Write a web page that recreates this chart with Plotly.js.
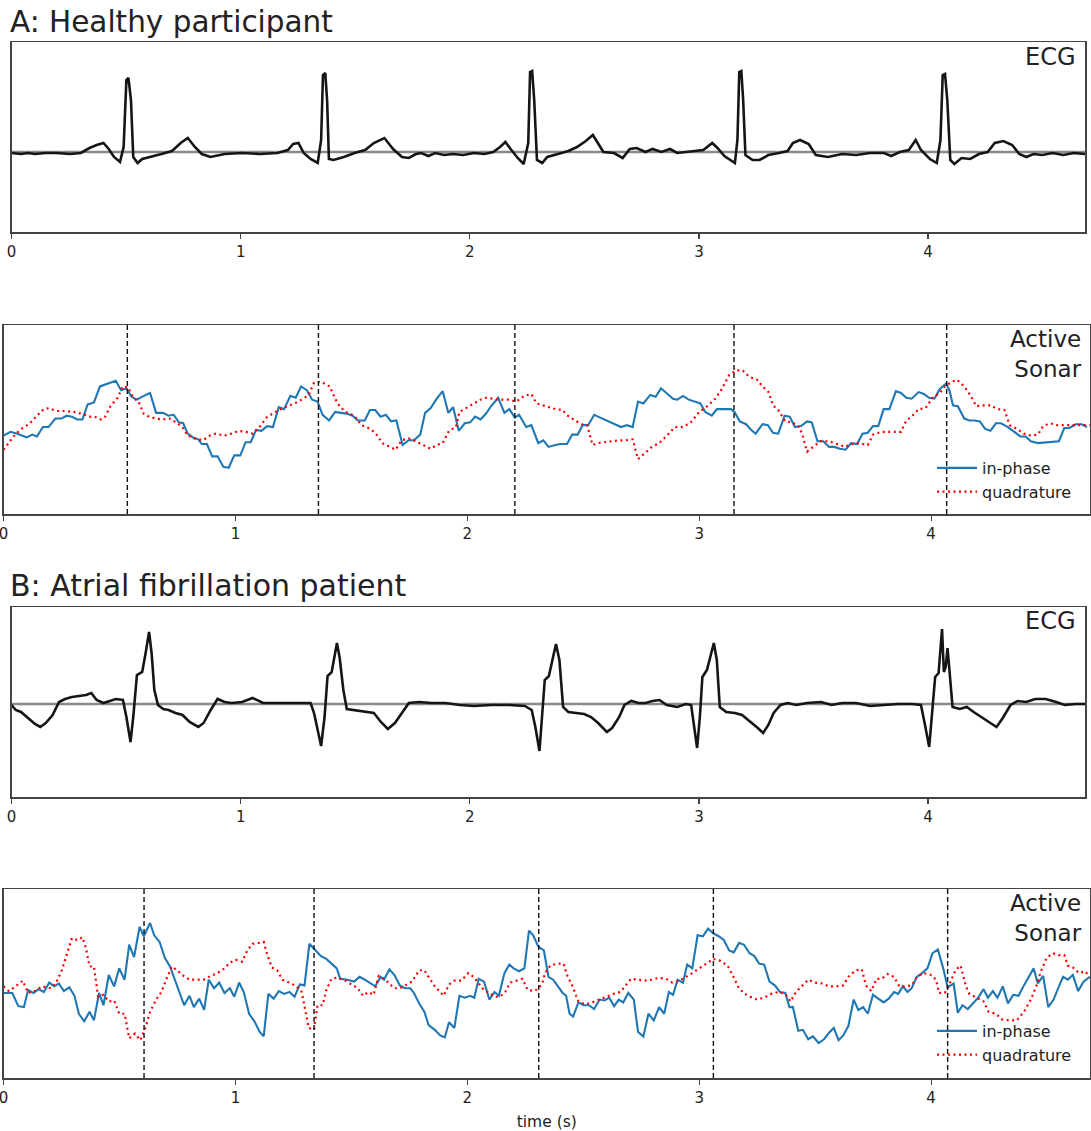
<!DOCTYPE html>
<html>
<head>
<meta charset="utf-8">
<script src="https://cdn.plot.ly/plotly-3.0.1.min.js"></script>
<style>
  html, body { margin: 0; padding: 0; background: #fff; }
  #chart { width: 1091px; height: 1131px; }
</style>
</head>
<body>
<div id="chart"></div>
<script>
// ---------- A: healthy participant ----------
const ecgA_t = [0,0.041,0.072,0.102,0.149,0.194,0.256,0.302,0.34,0.371,0.401,0.424,0.447,0.473,0.489,0.501,0.51,0.521,0.531,0.55,0.57,0.608,0.654,0.70,0.738,0.769,0.80,0.83,0.868,0.93,1.006,1.083,1.16,1.206,1.229,1.252,1.275,1.305,1.336,1.351,1.359,1.369,1.377,1.385,1.405,1.45,1.497,1.543,1.581,1.627,1.665,1.704,1.734,1.765,1.788,1.819,1.849,1.887,1.926,1.971,2.018,2.064,2.102,2.132,2.155,2.178,2.209,2.235,2.255,2.263,2.272,2.281,2.293,2.316,2.338,2.384,2.43,2.468,2.506,2.537,2.56,2.583,2.629,2.667,2.698,2.728,2.767,2.797,2.836,2.874,2.905,2.95,3.019,3.058,3.081,3.111,3.142,3.157,3.168,3.176,3.185,3.193,3.203,3.234,3.265,3.303,3.349,3.387,3.41,3.441,3.479,3.51,3.563,3.625,3.686,3.747,3.808,3.839,3.877,3.916,3.946,3.969,4.008,4.038,4.054,4.064,4.074,4.084,4.097,4.115,4.146,4.184,4.222,4.26,4.291,4.329,4.367,4.398,4.429,4.46,4.498,4.544,4.59,4.636,4.685];
const ecgA_v = [-0.01,-0.02,-0.01,-0.02,-0.01,-0.01,-0.02,-0.01,0.04,0.07,0.09,0.03,-0.05,-0.10,0.05,0.72,0.74,0.52,-0.05,-0.11,-0.07,-0.05,-0.02,0.01,0.09,0.14,0.05,-0.02,-0.05,-0.02,-0.01,-0.02,-0.01,0.02,0.08,0.09,-0.01,-0.07,-0.11,0.12,0.77,0.79,0.52,-0.07,-0.08,-0.05,-0.01,0.02,0.09,0.14,0.03,-0.05,-0.06,-0.02,-0.01,-0.04,-0.01,-0.03,-0.02,-0.03,-0.01,-0.02,0,0.05,0.10,0.03,-0.06,-0.12,0.09,0.80,0.81,0.52,-0.08,-0.11,-0.05,-0.02,0.01,0.05,0.11,0.17,0.09,0,-0.01,-0.06,0.03,0.04,0,0.03,0,0.03,-0.01,0,0.02,0.09,0.04,-0.04,-0.09,-0.11,0.12,0.80,0.81,0.52,-0.03,-0.08,-0.08,-0.03,-0.01,0.01,0.09,0.12,0.08,-0.03,-0.05,-0.02,-0.03,-0.01,-0.01,-0.04,0,0.02,0.12,0.02,-0.07,-0.11,0.12,0.77,0.78,0.52,-0.08,-0.12,-0.06,-0.07,-0.02,0,0.09,0.11,0.07,-0.02,-0.05,-0.02,-0.03,-0.01,-0.03,-0.01,-0.02];

const sonarA_inT = [0,0.03,0.06,0.10,0.124,0.144,0.17,0.194,0.224,0.25,0.272,0.295,0.318,0.34,0.363,0.39,0.416,0.446,0.484,0.507,0.53,0.552,0.575,0.605,0.632,0.658,0.688,0.711,0.734,0.756,0.775,0.794,0.817,0.84,0.855,0.877,0.90,0.923,0.948,0.971,0.995,1.021,1.044,1.066,1.089,1.112,1.137,1.162,1.187,1.21,1.237,1.26,1.283,1.308,1.331,1.354,1.376,1.404,1.43,1.455,1.482,1.505,1.528,1.558,1.58,1.603,1.626,1.649,1.671,1.694,1.721,1.747,1.77,1.797,1.818,1.842,1.868,1.894,1.918,1.939,1.963,1.989,2.012,2.034,2.057,2.08,2.102,2.133,2.16,2.181,2.205,2.223,2.254,2.276,2.306,2.328,2.35,2.38,2.403,2.43,2.452,2.476,2.497,2.521,2.547,2.573,2.60,2.63,2.663,2.688,2.713,2.736,2.759,2.789,2.812,2.835,2.857,2.887,2.905,2.93,2.955,2.978,3.005,3.026,3.054,3.076,3.106,3.137,3.152,3.175,3.202,3.22,3.243,3.273,3.296,3.318,3.341,3.368,3.39,3.413,3.439,3.465,3.485,3.51,3.535,3.56,3.583,3.606,3.631,3.655,3.681,3.704,3.727,3.749,3.772,3.795,3.82,3.848,3.87,3.893,3.916,3.946,3.969,3.991,4.014,4.037,4.064,4.079,4.094,4.115,4.143,4.165,4.188,4.21,4.233,4.256,4.279,4.301,4.331,4.354,4.385,4.407,4.43,4.46,4.498,4.528,4.551,4.574,4.596,4.623,4.649,4.672];
const sonarA_inV = [-0.17,-0.13,-0.15,-0.19,-0.16,-0.18,-0.08,-0.08,0.01,0.01,0.04,0.03,0,0,0.16,0.18,0.35,0.38,0.41,0.31,0.33,0.24,0.21,0.25,0.28,0.07,0.07,0.04,0.05,-0.03,-0.04,-0.15,-0.19,-0.21,-0.26,-0.26,-0.39,-0.39,-0.50,-0.51,-0.38,-0.38,-0.24,-0.24,-0.11,-0.12,-0.07,-0.08,0.13,0.11,0.25,0.23,0.35,0.31,0.21,0.19,0.05,-0.01,0.08,0.07,0.06,0.04,-0.01,-0.01,0.10,0.10,0.03,0.05,-0.02,-0.01,-0.27,-0.22,-0.22,-0.16,0.07,0.12,0.22,0.30,0.07,0.13,-0.12,-0.04,-0.03,0.03,0,0.06,0.14,0.23,0.07,0.11,0.02,0.05,-0.08,-0.06,-0.25,-0.22,-0.29,-0.27,-0.26,-0.26,-0.16,-0.16,-0.06,-0.06,0.05,0.02,-0.01,-0.04,-0.08,-0.06,-0.08,0.19,0.17,0.26,0.24,0.33,0.28,0.22,0.21,0.25,0.21,0.19,0.17,0.08,0.04,0.11,0.11,0.11,0.08,-0.02,-0.05,-0.10,-0.15,-0.05,-0.06,-0.14,-0.15,0.04,0.03,-0.08,-0.07,-0.02,-0.03,-0.23,-0.23,-0.29,-0.29,-0.31,-0.32,-0.25,-0.26,-0.15,-0.14,-0.07,-0.07,0.11,0.11,0.30,0.28,0.23,0.22,0.29,0.27,0.23,0.22,0.32,0.38,0.31,0.15,0.14,0.01,-0.01,-0.01,-0.02,-0.10,-0.12,-0.04,-0.04,-0.08,-0.12,-0.18,-0.18,-0.23,-0.25,-0.24,-0.23,-0.23,-0.09,-0.09,-0.05,-0.05,-0.08];

const sonarA_quT = [0,0.023,0.053,0.083,0.114,0.144,0.174,0.197,0.227,0.265,0.303,0.34,0.37,0.393,0.42,0.438,0.461,0.492,0.514,0.537,0.56,0.582,0.605,0.628,0.658,0.688,0.718,0.749,0.771,0.794,0.824,0.859,0.89,0.915,0.953,0.983,1.013,1.044,1.074,1.104,1.134,1.165,1.195,1.225,1.255,1.286,1.316,1.339,1.369,1.407,1.43,1.452,1.482,1.513,1.543,1.573,1.603,1.634,1.664,1.691,1.717,1.747,1.777,1.808,1.842,1.868,1.894,1.921,1.951,1.966,1.996,2.027,2.057,2.08,2.11,2.14,2.178,2.211,2.246,2.276,2.299,2.343,2.38,2.411,2.433,2.464,2.494,2.517,2.54,2.562,2.592,2.623,2.653,2.683,2.713,2.736,2.766,2.796,2.827,2.857,2.895,2.93,2.963,3.0,3.035,3.069,3.099,3.129,3.16,3.187,3.217,3.25,3.273,3.299,3.318,3.341,3.371,3.401,3.432,3.447,3.465,3.49,3.523,3.56,3.595,3.628,3.659,3.689,3.727,3.749,3.787,3.825,3.87,3.893,3.916,3.946,3.976,4.006,4.037,4.059,4.09,4.112,4.143,4.173,4.195,4.226,4.256,4.286,4.316,4.339,4.37,4.4,4.43,4.46,4.483,4.513,4.543,4.581,4.619,4.657,4.684];
const sonarA_quV = [-0.32,-0.25,-0.15,-0.09,-0.04,0.04,0.11,0.12,0.09,0.09,0.08,0.06,0.03,0.03,0,0.03,0.14,0.23,0.35,0.34,0.23,0.19,0.06,0.03,0.01,0,0.01,-0.04,-0.08,-0.17,-0.20,-0.22,-0.17,-0.15,-0.17,-0.15,-0.12,-0.13,-0.15,-0.08,0.02,0.07,0.11,0.14,0.17,0.21,0.26,0.39,0.40,0.35,0.22,0.13,0.07,0.04,-0.06,-0.09,-0.14,-0.25,-0.29,-0.32,-0.22,-0.20,-0.23,-0.27,-0.31,-0.27,-0.25,-0.12,-0.08,0.08,0.12,0.17,0.21,0.23,0.22,0.21,0.21,0.19,0.25,0.27,0.17,0.14,0.11,0.10,0.04,-0.01,-0.05,-0.06,-0.27,-0.25,-0.24,-0.23,-0.22,-0.22,-0.21,-0.42,-0.36,-0.29,-0.25,-0.18,-0.08,-0.08,-0.03,0.08,0.14,0.22,0.33,0.47,0.52,0.52,0.45,0.42,0.35,0.29,0.15,0.10,-0.02,-0.03,-0.08,-0.18,-0.34,-0.29,-0.23,-0.23,-0.26,-0.29,-0.26,-0.25,-0.27,-0.16,-0.13,-0.13,-0.13,-0.01,0.03,0.11,0.12,0.23,0.28,0.35,0.40,0.42,0.35,0.24,0.14,0.15,0.15,0.11,0.10,-0.06,-0.10,-0.15,-0.17,-0.16,-0.07,-0.04,-0.06,-0.06,-0.06,-0.06,-0.06];

const beatsA = [0.534, 1.358, 2.205, 3.15, 4.067];

// ---------- B: atrial fibrillation patient ----------
const ecgB_t = [0,0.018,0.041,0.072,0.102,0.125,0.149,0.179,0.207,0.233,0.263,0.294,0.325,0.348,0.371,0.401,0.432,0.455,0.486,0.501,0.519,0.531,0.547,0.57,0.585,0.60,0.611,0.623,0.639,0.662,0.685,0.715,0.746,0.777,0.815,0.838,0.869,0.899,0.93,0.96,1.006,1.052,1.098,1.144,1.19,1.236,1.282,1.305,1.32,1.336,1.351,1.366,1.379,1.397,1.408,1.42,1.432,1.448,1.463,1.497,1.543,1.581,1.612,1.642,1.673,1.704,1.734,1.78,1.834,1.895,1.956,2.018,2.094,2.171,2.24,2.27,2.286,2.304,2.316,2.327,2.345,2.361,2.376,2.391,2.407,2.43,2.46,2.499,2.529,2.56,2.598,2.621,2.652,2.675,2.705,2.736,2.767,2.797,2.828,2.859,2.905,2.943,2.966,2.976,2.992,3.004,3.015,3.035,3.05,3.065,3.078,3.091,3.119,3.157,3.188,3.226,3.257,3.28,3.303,3.326,3.356,3.387,3.425,3.471,3.533,3.579,3.625,3.686,3.747,3.808,3.87,3.931,3.969,3.985,4.005,4.015,4.031,4.046,4.054,4.061,4.069,4.077,4.085,4.092,4.107,4.138,4.169,4.199,4.238,4.268,4.299,4.326,4.36,4.39,4.429,4.467,4.513,4.559,4.597,4.643,4.685];
const ecgB_v = [-0.01,-0.06,-0.08,-0.14,-0.20,-0.23,-0.19,-0.11,0.02,0.05,0.07,0.08,0.09,0.11,0.04,0.01,0.03,0.05,0.04,-0.13,-0.38,-0.13,0.29,0.32,0.51,0.72,0.51,0.14,-0.01,-0.05,-0.06,-0.09,-0.11,-0.18,-0.23,-0.19,-0.06,0.05,0.02,0.01,0.02,0.06,0.01,0.01,0.01,0.01,0.01,0.01,-0.09,-0.26,-0.42,-0.13,0.28,0.32,0.47,0.61,0.46,0.14,-0.05,-0.06,-0.08,-0.09,-0.18,-0.25,-0.19,-0.09,0.01,0.02,0.01,0.01,-0.01,-0.02,-0.01,-0.01,-0.02,-0.06,-0.23,-0.47,-0.13,0.24,0.28,0.44,0.60,0.44,-0.03,-0.08,-0.09,-0.10,-0.13,-0.19,-0.28,-0.24,-0.13,-0.01,0.03,0.01,0.01,0.03,0.04,-0.01,-0.03,0,-0.01,-0.19,-0.44,-0.13,0.27,0.34,0.47,0.61,0.44,-0.03,-0.08,-0.09,-0.11,-0.18,-0.24,-0.29,-0.21,-0.09,-0.01,0.01,-0.01,0.01,0.02,-0.01,0.01,0.01,-0.02,-0.01,0,0,-0.01,-0.19,-0.43,-0.16,0.27,0.31,0.57,0.75,0.32,0.37,0.56,0.34,-0.03,-0.05,-0.03,-0.08,-0.14,-0.19,-0.23,-0.14,-0.01,0.03,0.02,0.05,0.05,0.02,-0.01,0,0];

const sonarB_inT = [0,0.038,0.064,0.088,0.106,0.129,0.151,0.174,0.197,0.219,0.239,0.26,0.284,0.306,0.325,0.348,0.371,0.39,0.412,0.431,0.454,0.477,0.499,0.522,0.542,0.563,0.587,0.605,0.632,0.65,0.673,0.696,0.718,0.741,0.764,0.779,0.802,0.821,0.844,0.865,0.885,0.908,0.93,0.953,0.976,0.995,1.016,1.036,1.059,1.082,1.104,1.122,1.142,1.165,1.187,1.21,1.233,1.255,1.278,1.298,1.319,1.343,1.369,1.392,1.414,1.437,1.452,1.482,1.512,1.535,1.558,1.588,1.603,1.626,1.641,1.664,1.686,1.709,1.732,1.754,1.77,1.792,1.815,1.833,1.86,1.883,1.903,1.921,1.944,1.966,1.989,2.012,2.03,2.049,2.072,2.095,2.117,2.136,2.16,2.181,2.2,2.223,2.246,2.266,2.284,2.306,2.33,2.35,2.37,2.391,2.411,2.426,2.441,2.456,2.479,2.501,2.524,2.547,2.57,2.592,2.612,2.633,2.653,2.672,2.694,2.718,2.736,2.759,2.781,2.804,2.827,2.849,2.869,2.887,2.907,2.93,2.948,2.97,2.993,3.016,3.038,3.061,3.084,3.106,3.129,3.149,3.172,3.193,3.217,3.238,3.258,3.28,3.303,3.326,3.348,3.371,3.389,3.404,3.427,3.447,3.47,3.49,3.515,3.538,3.56,3.58,3.601,3.621,3.643,3.666,3.686,3.707,3.727,3.749,3.772,3.795,3.817,3.84,3.858,3.878,3.898,3.916,3.938,3.961,3.984,4.006,4.029,4.052,4.071,4.097,4.115,4.135,4.158,4.18,4.203,4.226,4.245,4.266,4.286,4.309,4.331,4.354,4.377,4.4,4.422,4.442,4.46,4.483,4.505,4.528,4.551,4.569,4.589,4.611,4.634,4.657,4.684];
const sonarB_inV = [-0.10,-0.10,-0.24,-0.25,-0.07,-0.10,-0.06,-0.09,0.01,-0.03,0,-0.08,-0.04,-0.13,-0.32,-0.40,-0.30,-0.39,-0.10,-0.23,0.09,-0.03,0.16,0.04,0.41,0.28,0.60,0.50,0.64,0.51,0.44,0.27,0.18,0.02,-0.12,-0.23,-0.13,-0.25,-0.16,-0.28,0.04,-0.05,0.01,-0.10,-0.05,-0.14,0.01,-0.09,-0.32,-0.40,-0.51,-0.56,-0.11,-0.16,-0.08,-0.11,-0.09,-0.14,-0.01,-0.02,0.42,0.36,0.29,0.26,0.21,0.16,0.05,0.04,0.02,0.07,0.04,-0.01,-0.03,0.07,0.04,0.15,0.09,-0.02,-0.05,-0.05,-0.10,-0.21,-0.30,-0.44,-0.49,-0.55,-0.57,-0.41,-0.47,-0.13,-0.15,-0.13,-0.15,0.05,0.02,-0.17,-0.09,-0.13,0.11,0.20,0.16,0.13,0.16,0.56,0.51,0.39,0.35,0.07,0.04,-0.03,-0.10,-0.13,-0.32,-0.35,-0.20,-0.23,-0.23,-0.27,-0.17,-0.18,-0.15,-0.24,-0.17,-0.20,-0.10,-0.17,-0.51,-0.56,-0.32,-0.39,-0.25,-0.32,-0.09,-0.12,0.04,0.01,0.20,0.16,0.51,0.50,0.58,0.53,0.50,0.46,0.35,0.33,0.43,0.41,0.32,0.29,0.21,0.20,0.02,-0.02,-0.09,-0.10,-0.25,-0.25,-0.50,-0.49,-0.59,-0.56,-0.63,-0.59,-0.52,-0.47,-0.60,-0.55,-0.45,-0.17,-0.28,-0.25,-0.32,-0.12,-0.16,-0.20,-0.16,-0.09,-0.11,-0.03,-0.09,-0.05,0.07,0.11,0.16,0.32,0.36,0.16,-0.04,0,-0.31,-0.23,-0.27,-0.21,-0.15,-0.06,-0.15,-0.08,-0.15,-0.03,-0.21,-0.12,-0.13,-0.02,0.07,0.16,0,0.08,-0.25,-0.17,-0.03,0.07,0.04,0.09,-0.08,0.02,0.07];

const sonarB_quT = [0,0.023,0.053,0.083,0.106,0.136,0.166,0.204,0.227,0.25,0.272,0.295,0.318,0.34,0.356,0.371,0.39,0.408,0.431,0.454,0.477,0.499,0.522,0.542,0.567,0.59,0.613,0.632,0.658,0.681,0.703,0.726,0.749,0.771,0.802,0.832,0.862,0.893,0.923,0.953,0.976,1.001,1.029,1.051,1.074,1.104,1.122,1.137,1.157,1.18,1.203,1.233,1.263,1.286,1.301,1.316,1.339,1.354,1.376,1.392,1.414,1.437,1.467,1.497,1.528,1.55,1.573,1.596,1.618,1.641,1.664,1.686,1.709,1.739,1.762,1.792,1.815,1.838,1.86,1.883,1.898,1.921,1.944,1.974,2.004,2.027,2.049,2.072,2.095,2.117,2.14,2.163,2.186,2.211,2.238,2.261,2.291,2.322,2.335,2.358,2.388,2.415,2.43,2.452,2.464,2.479,2.509,2.539,2.57,2.6,2.63,2.66,2.683,2.706,2.736,2.766,2.796,2.827,2.857,2.884,2.914,2.945,2.97,3.0,3.031,3.061,3.091,3.122,3.144,3.167,3.19,3.22,3.25,3.28,3.311,3.341,3.371,3.394,3.417,3.44,3.47,3.5,3.53,3.56,3.59,3.621,3.643,3.674,3.701,3.719,3.742,3.764,3.787,3.813,3.84,3.863,3.885,3.916,3.938,3.969,3.999,4.021,4.034,4.059,4.082,4.105,4.127,4.15,4.165,4.195,4.226,4.248,4.279,4.306,4.339,4.369,4.4,4.43,4.453,4.475,4.498,4.524,4.551,4.574,4.589,4.611,4.638,4.664,4.684];
const sonarB_quV = [-0.03,-0.08,-0.03,0.03,-0.10,-0.08,-0.03,-0.05,0.01,0.13,0.30,0.48,0.46,0.49,0.37,0.18,0.18,-0.14,-0.12,-0.19,-0.18,-0.32,-0.32,-0.58,-0.53,-0.60,-0.46,-0.30,-0.17,-0.09,0.05,0.18,0.14,0.09,0.04,0.04,0.04,0.08,0.11,0.16,0.22,0.25,0.23,0.35,0.42,0.43,0.44,0.31,0.17,0.14,0.04,0.01,-0.03,-0.09,-0.28,-0.47,-0.49,-0.23,-0.23,-0.07,0.05,0.06,0.04,0,-0.05,-0.13,-0.09,-0.12,0.08,0.05,0,-0.05,-0.05,-0.01,0.02,0.14,0.14,0.05,-0.03,-0.09,-0.13,-0.01,0.03,0.03,0.11,0.07,0,-0.07,-0.10,-0.14,-0.14,-0.09,0.01,0.03,0.05,-0.07,-0.08,-0.01,0.11,0.19,0.21,0.21,0.09,-0.02,-0.09,-0.19,-0.22,-0.20,-0.17,-0.14,-0.11,-0.09,-0.02,0.05,0.04,0.03,0.04,0.06,0.05,0.01,0.03,0.07,0.11,0.16,0.21,0.26,0.24,0.19,0.09,-0.03,-0.10,-0.14,-0.17,-0.15,-0.11,-0.09,-0.11,-0.19,-0.09,-0.03,0.04,0.01,0,-0.03,-0.03,-0.02,0.07,0.14,0.15,-0.02,-0.08,0.05,0.05,0.10,0.07,-0.03,-0.03,-0.02,0.07,0.11,0.09,0.04,-0.10,-0.10,0.01,0.14,0.19,-0.03,-0.11,-0.15,-0.19,-0.30,-0.32,-0.38,-0.39,-0.39,-0.30,-0.17,-0.03,0.14,0.27,0.32,0.30,0.30,0.19,0.17,0.11,0.13,0.07];

const beatsB = [0.606, 1.339, 2.308, 3.061, 4.071];

const xTicks = [0, 1, 2, 3, 4];
const tMax = 4.685;

// ---------- styling ----------
const W = 1091, H = 1131;
const FONT = 'DejaVu Sans, Liberation Sans, sans-serif';
const TEXT = '#222';
const FRAME = '#444';
const BLUE = '#1f77b4';
const RED = '#ff0000';

// panel boxes in page pixels: [left, right, top, bottom]
const boxes = [
  [11.6, 1085, 42, 232],
  [3.5, 1090, 325, 514],
  [11.6, 1085, 607, 797],
  [3.5, 1090, 889, 1078]
];
const xdom = b => [b[0] / W, b[1] / W];
const ydom = b => [1 - b[3] / H, 1 - b[2] / H];

function xaxisFor(i, title) {
  const ax = {
    domain: xdom(boxes[i]), range: [0, tMax], anchor: 'y' + (i ? i + 1 : ''),
    showline: true, mirror: true, linecolor: FRAME, linewidth: 1.5,
    ticks: 'outside', ticklen: 5, tickwidth: 1.2, tickcolor: FRAME,
    tickvals: xTicks, ticktext: xTicks.map(String), ticklabeloverflow: 'allow',
    tickfont: {family: FONT, size: 15, color: TEXT},
    showgrid: false, zeroline: false, fixedrange: true
  };
  if (title) ax.title = {text: title, font: {family: FONT, size: 15.5, color: TEXT}, standoff: 12};
  return ax;
}
function yaxisFor(i, range) {
  return {
    domain: ydom(boxes[i]), range: range, anchor: 'x' + (i ? i + 1 : ''),
    showline: true, mirror: true, linecolor: FRAME, linewidth: 1.5,
    showticklabels: false, ticks: '', showgrid: false, zeroline: false, fixedrange: true
  };
}

const ecgRangeA = [-0.8, 1.1];
const ecgRangeB = [-0.93, 0.97];
const sonarRange = [-1, 1];

const baseline = (xa, ya) => ({
  x: [0, tMax], y: [0, 0], xaxis: xa, yaxis: ya, mode: 'lines',
  line: {color: '#8a8a8a', width: 2.4}, showlegend: false, hoverinfo: 'skip'
});
const ecgTrace = (t, v, xa, ya) => ({
  x: t, y: v, xaxis: xa, yaxis: ya, mode: 'lines',
  line: {color: '#151515', width: 2.6, shape: 'linear'}, showlegend: false, hoverinfo: 'skip'
});
const inPhase = (t, v, xa, ya, lg) => ({
  x: t, y: v, xaxis: xa, yaxis: ya, mode: 'lines', name: 'in-phase', legend: lg,
  line: {color: BLUE, width: 2.1}
});
const quadrature = (t, v, xa, ya, lg) => ({
  x: t, y: v, xaxis: xa, yaxis: ya, mode: 'lines', name: 'quadrature', legend: lg,
  line: {color: RED, width: 2.2, dash: '2px,3.5px'}
});

const data = [
  baseline('x', 'y'), ecgTrace(ecgA_t, ecgA_v, 'x', 'y'),
  inPhase(sonarA_inT, sonarA_inV, 'x2', 'y2', 'legend'),
  quadrature(sonarA_quT, sonarA_quV, 'x2', 'y2', 'legend'),
  baseline('x3', 'y3'), ecgTrace(ecgB_t, ecgB_v, 'x3', 'y3'),
  inPhase(sonarB_inT, sonarB_inV, 'x4', 'y4', 'legend2'),
  quadrature(sonarB_quT, sonarB_quV, 'x4', 'y4', 'legend2')
];

// beat markers on the sonar panels
const shapes = [];
beatsA.forEach(b => shapes.push({type: 'line', xref: 'x2', yref: 'y2 domain', x0: b, x1: b, y0: 0, y1: 1,
  line: {color: '#111', width: 1.4, dash: '5px,3px'}}));
beatsB.forEach(b => shapes.push({type: 'line', xref: 'x4', yref: 'y4 domain', x0: b, x1: b, y0: 0, y1: 1,
  line: {color: '#111', width: 1.4, dash: '5px,3px'}}));

const ann = (text, xPx, yPx, size, xanchor, yanchor, align) => ({
  text: text, xref: 'paper', yref: 'paper', x: xPx / W, y: 1 - yPx / H,
  xanchor: xanchor, yanchor: yanchor, align: align || 'left', showarrow: false,
  font: {family: FONT, size: size, color: TEXT}
});

const annotations = [
  ann('A: Healthy participant', 8, 22, 29.5, 'left', 'middle'),
  ann('B: Atrial fibrillation patient', 8, 585, 30, 'left', 'middle'),
  ann('ECG', 1078, 57, 24, 'right', 'middle', 'right'),
  ann('ECG', 1078, 621, 24, 'right', 'middle', 'right'),
  ann('Active<br>Sonar', 1084, 354, 23, 'right', 'middle', 'right'),
  ann('Active<br>Sonar', 1084, 918, 23, 'right', 'middle', 'right')
];

const legendStyle = (yPx) => ({
  x: 932 / W, xanchor: 'left', y: 1 - yPx / H, yanchor: 'top',
  bgcolor: 'rgba(0,0,0,0)', borderwidth: 0,
  font: {family: FONT, size: 16, color: TEXT}, itemwidth: 40, tracegroupgap: 0
});

const layout = {
  width: W, height: H,
  margin: {l: 0, r: 0, t: 0, b: 0, pad: 0},
  paper_bgcolor: '#fff', plot_bgcolor: '#fff',
  showlegend: true,
  legend: legendStyle(451),
  legend2: legendStyle(1014),
  xaxis: xaxisFor(0), yaxis: yaxisFor(0, ecgRangeA),
  xaxis2: xaxisFor(1), yaxis2: yaxisFor(1, sonarRange),
  xaxis3: xaxisFor(2), yaxis3: yaxisFor(2, ecgRangeB),
  xaxis4: xaxisFor(3, 'time (s)'), yaxis4: yaxisFor(3, sonarRange),
  shapes: shapes,
  annotations: annotations
};

Plotly.newPlot('chart', data, layout, {staticPlot: true, displayModeBar: false});
</script>
</body>
</html>
